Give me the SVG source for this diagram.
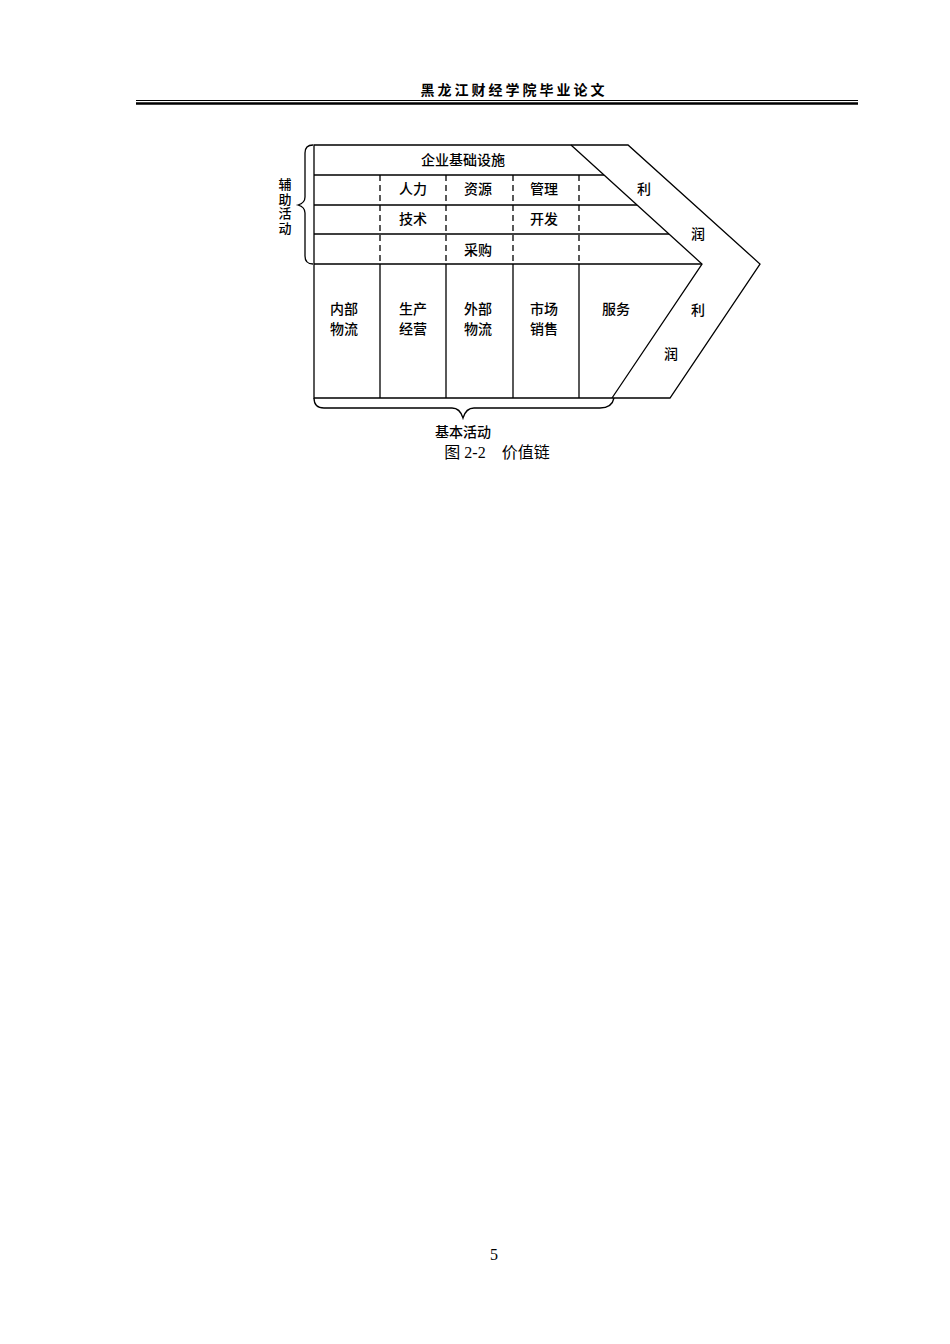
<svg xmlns="http://www.w3.org/2000/svg" width="950" height="1344" viewBox="0 0 950 1344">
<style>
.ln{stroke:#000;stroke-width:1.3;fill:none}
.ds{stroke:#000;stroke-width:1.3;fill:none;stroke-dasharray:6,4}
.t{font-family:"Noto Sans CJK SC",sans-serif;font-size:14px;font-weight:500;fill:#000;text-anchor:middle}
.v{font-family:"Noto Sans CJK SC",sans-serif;font-size:13px;font-weight:500;fill:#000;text-anchor:middle;writing-mode:vertical-rl;letter-spacing:1.5px}
.cap{font-family:"Liberation Serif","Noto Sans CJK SC",serif;font-size:16px;fill:#000;text-anchor:middle}
</style>
<rect width="950" height="1344" fill="#fff"/>
<g id="header">
<text x="514" y="95" style="font-family:'Noto Sans CJK SC',sans-serif;font-size:14px;font-weight:700;text-anchor:middle;letter-spacing:3px">黑龙江财经学院毕业论文</text>
<line x1="136" y1="100.5" x2="858" y2="100.5" stroke="#000" stroke-width="1"/>
<line x1="136" y1="103.5" x2="858" y2="103.5" stroke="#000" stroke-width="2.5"/>
</g>
<g id="connectors">
<path class="ln" d="M314,145 H628 L760,264 L670,398 H314 Z"/>
<path class="ln" d="M571,145 L702,264 L612,398"/>
<path class="ln" d="M314,175 H604 M314,205 H637 M314,234 H669 M314,264 H702"/>
<path class="ds" d="M380,175 V264 M446,175 V264 M513,175 V264 M579,175 V264"/>
<path class="ln" d="M380,264 V398 M446,264 V398 M513,264 V398 M579,264 V398"/>
<path class="ln" d="M313,145 Q305,145 305,153 V197 Q305,203 298,205 Q305,207 305,213 V256 Q305,264 313,264"/>
<path class="ln" d="M314,398 Q314,408 324,408 H452 Q460,408 463,418 Q466,408 474,408 H600 Q612,408 614,398"/>
</g>
<g id="support-label">
<text class="v" x="285" y="207">辅助活动</text>
</g>
<g id="infrastructure"><text class="t" x="463" y="165">企业基础设施</text></g>
<g id="hr"><text class="t" x="413" y="194">人力</text><text class="t" x="478" y="194">资源</text><text class="t" x="544" y="194">管理</text></g>
<g id="tech"><text class="t" x="413" y="224">技术</text><text class="t" x="544" y="224">开发</text></g>
<g id="procurement"><text class="t" x="478" y="255">采购</text></g>
<g id="profit-top"><text class="t" x="644" y="194">利</text><text class="t" x="698" y="239">润</text></g>
<g id="inbound"><text class="t" x="344" y="314">内部</text><text class="t" x="344" y="334">物流</text></g>
<g id="operations"><text class="t" x="413" y="314">生产</text><text class="t" x="413" y="334">经营</text></g>
<g id="outbound"><text class="t" x="478" y="314">外部</text><text class="t" x="478" y="334">物流</text></g>
<g id="marketing"><text class="t" x="544" y="314">市场</text><text class="t" x="544" y="334">销售</text></g>
<g id="service"><text class="t" x="616" y="314">服务</text></g>
<g id="profit-bottom"><text class="t" x="698" y="315">利</text><text class="t" x="671" y="359">润</text></g>
<g id="primary-label"><text class="t" x="463" y="437">基本活动</text></g>
<g id="caption"><text class="cap" x="497" y="458" xml:space="preserve">图 2-2    价值链</text></g>
<g id="page"><text class="cap" x="494" y="1260">5</text></g>
</svg>
